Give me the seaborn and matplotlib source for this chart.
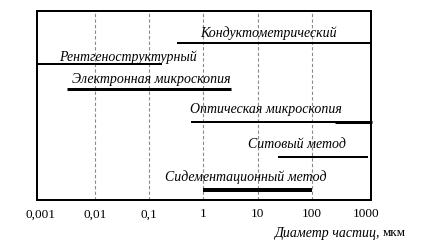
import numpy as np
import pandas as pd
import matplotlib
matplotlib.use("Agg")
import matplotlib.pyplot as plt
import seaborn as sns

# ---- data ----
methods = ["Кондуктометрический", "Рентгеноструктурный", "Электронная микроскопия",
           "Оптическая микроскопия", "Ситовый метод", "Сидементационный метод"]
d_min = [0.33, 0.0008, 0.003, 0.6, 24, 1]
d_max = [1300, 0.17, 3.2, 1300, 1100, 100]
rows = [43, 64, 89, 122, 157, 190]          # vertical row of each method
widths_px = [2, 2, 3, 2, 2, 4]
# thicker sub-range for optical microscopy
opt_thick = (270, 1300)

tick_values = [0.001, 0.01, 0.1, 1, 10, 100, 1000]
tick_labels = ["0,001", "0,01", "0,1", "1", "10", "100", "1000"]
grid_values = [0.01, 0.1, 1, 10, 100]
label_logx = [1.19, -1.39, -0.967, 1.155, 1.727, 0.786]
label_y = [33, 57, 79, 109, 145, 177]

sns.set_theme(style="white")
plt.rcParams["font.family"] = ["Liberation Serif", "DejaVu Serif"]

W, H = 421, 240
fig = plt.figure(figsize=(W / 100, H / 100), dpi=100)
ax = fig.add_axes([37 / W, (H - 200) / H, (371 - 37) / W, (200 - 11) / H])

px = 0.72
for x in grid_values:
    ax.axvline(x, color="#8a8a8a", lw=0.8, ls=(0, (3, 2)), zorder=1)

df = pd.DataFrame({"method": methods, "lo": d_min, "hi": d_max, "row": rows, "w": widths_px})
for _, r in df.iterrows():
    seg = pd.DataFrame({"d": [r.lo, r.hi], "y": [r.row, r.row]})
    sns.lineplot(data=seg, x="d", y="y", color="black", lw=r.w * px,
                 ax=ax, solid_capstyle="butt", zorder=3, clip_on=False)
seg = pd.DataFrame({"d": list(opt_thick), "y": [rows[3], rows[3]]})
sns.lineplot(data=seg, x="d", y="y", color="black", lw=3 * px, ax=ax,
             solid_capstyle="butt", zorder=3, clip_on=False)

for name, lx, ly in zip(methods, label_logx, label_y):
    ax.text(10 ** lx, ly, name, ha="center", va="center", fontsize=10,
            style="italic", color="black", zorder=4)

ax.set_xscale("log")
ax.set_xlim(10 ** -3.07, 10 ** 3.09)
ax.set_ylim(200, 11)
ax.set_xticks(tick_values)
ax.set_xticklabels(tick_labels, fontsize=9.5)
ax.minorticks_off()
ax.set_yticks([])
ax.tick_params(axis="x", length=0, pad=6, colors="black")
ax.set_xlabel("")
ax.set_ylabel("")
for s in ax.spines.values():
    s.set_visible(True)
    s.set_color("black")
    s.set_linewidth(2 * px)

t2 = fig.text(406 / W, 1 - 233 / H, "мкм", ha="right", va="center", fontsize=9.5, color="black")
fig.canvas.draw()
bb = t2.get_window_extent()
fig.text((bb.x0 - 3) / W, 1 - 233 / H, "Диаметр частиц,", ha="right", va="center",
         fontsize=10, style="italic", color="black")

fig.savefig("out.png", dpi=100)
